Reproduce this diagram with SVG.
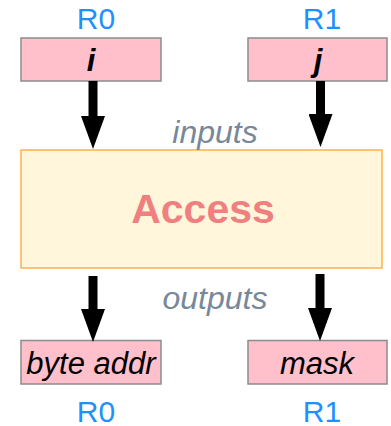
<svg xmlns="http://www.w3.org/2000/svg" width="391" height="426" viewBox="0 0 391 426">
  <style>
    .reg { fill: #ffc0cb; stroke: #8c8c8c; stroke-width: 1.5; }
    .lbl { font-family: "Liberation Sans", Arial, sans-serif; font-size: 30px; fill: #1e90ff; text-anchor: middle; }
    .val { font-family: "Liberation Sans", Arial, sans-serif; font-size: 31px; font-style: italic; fill: #000; text-anchor: middle; }
    .bold { font-weight: bold; }
    .io { font-family: "Liberation Sans", Arial, sans-serif; font-size: 32px; font-style: italic; fill: #778899; text-anchor: middle; }
    .conn { stroke: #000; stroke-width: 9; fill: none; marker-end: url(#ah); }
  </style>
  <defs>
    <marker id="ah" markerUnits="userSpaceOnUse" markerWidth="33" markerHeight="24" refX="0" refY="12" orient="auto" viewBox="0 0 33 24">
      <path d="M0,0 L33,12 L0,24 Z" fill="#000"/>
    </marker>
  </defs>
  <rect width="391" height="426" fill="#ffffff"/>

  <g id="access">
    <rect x="21" y="150" width="361" height="118" fill="#fff6db" stroke="#ffb14e" stroke-width="1.5"/>
    <text x="203" y="222.5" font-family="Liberation Sans, Arial, sans-serif" font-size="41" font-weight="bold" fill="#f08080" text-anchor="middle">Access</text>
  </g>

  <g id="in-i">
    <text class="lbl" x="96" y="28.5">R0</text>
    <rect class="reg" x="21" y="38" width="140" height="43"/>
    <text class="val bold" x="91" y="70.5">i</text>
  </g>
  <g id="in-j">
    <text class="lbl" x="322" y="28.5">R1</text>
    <rect class="reg" x="248" y="38" width="139" height="43"/>
    <text class="val bold" x="318" y="70.5">j</text>
  </g>
  <g id="out-byte-addr">
    <rect class="reg" x="21" y="340.5" width="140" height="43.5"/>
    <text class="val" x="91" y="373.5">byte addr</text>
    <text class="lbl" x="96" y="421.5">R0</text>
  </g>
  <g id="out-mask">
    <rect class="reg" x="248" y="340.5" width="139" height="43.5"/>
    <text class="val" x="317" y="374">mask</text>
    <text class="lbl" x="322" y="421.5">R1</text>
  </g>

  <text class="io" x="215" y="142.5">inputs</text>
  <text class="io" x="215" y="309">outputs</text>

  <g id="connectors">
    <path class="conn" d="M93,81 L93,116"/>
    <path class="conn" d="M320.5,81 L320.5,114"/>
    <path class="conn" d="M93,276 L93,309"/>
    <path class="conn" d="M320,274 L320,308"/>
  </g>
</svg>
